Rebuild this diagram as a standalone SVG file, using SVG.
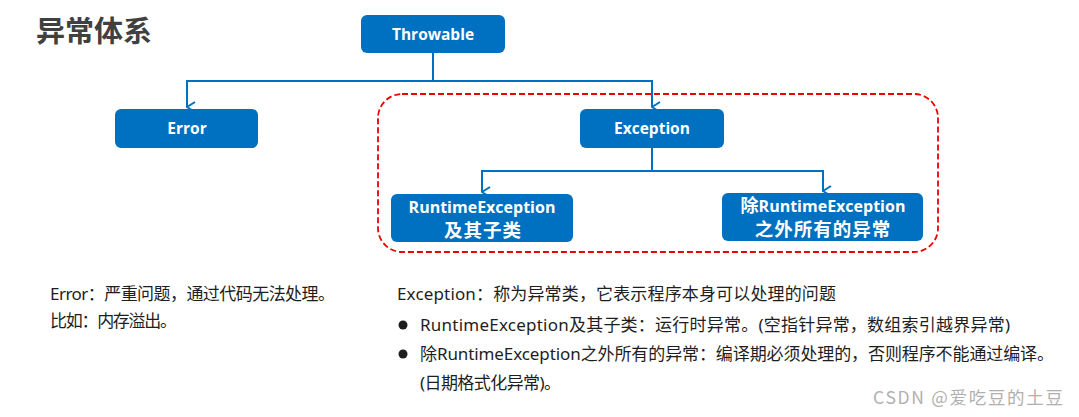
<svg xmlns="http://www.w3.org/2000/svg" width="1079" height="417" viewBox="0 0 1079 417">
<style>
.box{fill:#0070C0;}
.lbl{fill:#ffffff;font-family:"Open Sans","Noto Sans","Noto Sans CJK SC",sans-serif;font-weight:bold;font-size:15.5px;text-anchor:middle;}
.lbl2{fill:#ffffff;font-family:"Open Sans","Noto Sans","Noto Sans CJK SC",sans-serif;font-weight:bold;font-size:16px;text-anchor:middle;}
.cjk{font-family:"Noto Sans CJK SC",sans-serif;font-size:18.5px;letter-spacing:1px;}
.conn{fill:none;stroke:#0070C0;stroke-width:2;}
.body{fill:#1e1e1e;font-family:"Noto Sans","Noto Sans CJK SC",sans-serif;font-size:17px;}
</style>
<defs>
<marker id="arr" viewBox="0 0 12 12" refX="6" refY="11" markerWidth="12" markerHeight="12" markerUnits="userSpaceOnUse" orient="auto-start-reverse">
<path d="M1,3 L6,11 L11,3" fill="none" stroke="#0070C0" stroke-width="2"/>
</marker>
</defs>
<rect width="1079" height="417" fill="#ffffff"/>
<text x="36" y="42" font-family="'Noto Sans CJK SC',sans-serif" font-weight="bold" font-size="29" fill="#404040">异常体系</text>
<rect x="378" y="94" width="560" height="158" rx="24" fill="none" stroke="#EE0000" stroke-width="1.8" stroke-dasharray="6,3"/>
<g id="connectors">
<path class="conn" d="M433,53 V81 H187 V107" marker-end="url(#arr)"/>
<path class="conn" d="M433,81 H652 V107" marker-end="url(#arr)"/>
<path class="conn" d="M652,148 V171 H482 V192" marker-end="url(#arr)"/>
<path class="conn" d="M652,171 H823 V191" marker-end="url(#arr)"/>
</g>
<g id="throwable">
<rect class="box" x="361" y="15" width="144" height="38" rx="6"/>
<text class="lbl" x="433" y="40">Throwable</text>
</g>
<g id="error">
<rect class="box" x="115" y="109" width="143" height="39" rx="6"/>
<text class="lbl" x="187" y="134">Error</text>
</g>
<g id="exception">
<rect class="box" x="580" y="109" width="144" height="39" rx="6"/>
<text class="lbl" x="652" y="134">Exception</text>
</g>
<g id="runtime">
<rect class="box" x="391" y="194" width="182" height="48" rx="6"/>
<text class="lbl2" x="482" y="213">RuntimeException</text>
<text class="lbl2 cjk" x="483" y="237">及其子类</text>
</g>
<g id="other">
<rect class="box" x="722" y="193" width="201" height="48" rx="6"/>
<text class="lbl2" x="823" y="212"><tspan font-family="'Noto Sans CJK SC',sans-serif" font-size="18">除</tspan>RuntimeException</text>
<text class="lbl2 cjk" x="823" y="236">之外所有的异常</text>
</g>
<text class="body" x="50" y="300" textLength="285">Error：严重问题，通过代码无法处理。</text>
<text class="body" x="50" y="327" textLength="127">比如：内存溢出。</text>
<text class="body" x="397" y="300" textLength="439">Exception：称为异常类，它表示程序本身可以处理的问题</text>
<circle cx="403" cy="325" r="4.5" fill="#1e1e1e"/>
<text class="body" x="420" y="331" textLength="590">RuntimeException及其子类：运行时异常。(空指针异常，数组索引越界异常)</text>
<circle cx="403" cy="354" r="4.5" fill="#1e1e1e"/>
<text class="body" x="420" y="360" textLength="634">除RuntimeException之外所有的异常：编译期必须处理的，否则程序不能通过编译。</text>
<text class="body" x="420" y="389" textLength="141">(日期格式化异常)。</text>
<text x="873" y="404" font-family="'Noto Sans CJK SC',sans-serif" font-size="17.5" fill="#b0b0b0" textLength="190">CSDN @爱吃豆的土豆</text>
</svg>
